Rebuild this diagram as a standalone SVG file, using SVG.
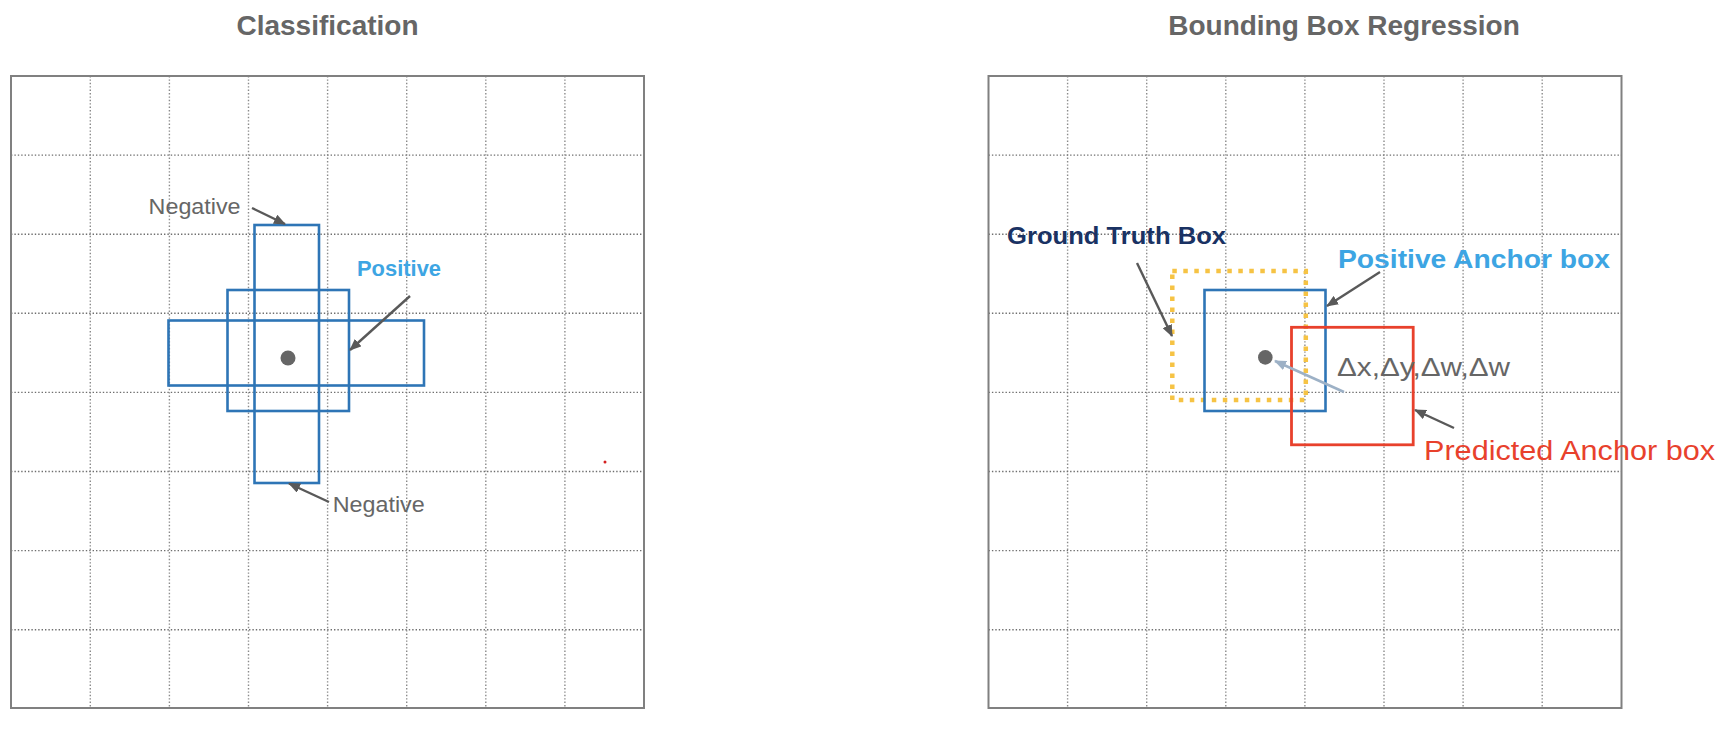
<svg xmlns="http://www.w3.org/2000/svg" width="1730" height="730" viewBox="0 0 1730 730">
<style>
.bg{fill:#ffffff}
.frame{fill:none;stroke:#808080;stroke-width:2}
.gh{stroke:#6f6f6f;stroke-width:1.4;stroke-dasharray:1.4 2}
.gv{stroke:#8a8a8a;stroke-width:1.4;stroke-dasharray:1.4 2}
.blue{fill:none;stroke:#2E75B6;stroke-width:2.6}
.red{fill:none;stroke:#E8412C;stroke-width:2.8}
.yellow{fill:none;stroke:#F6C344;stroke-width:4.5;stroke-dasharray:4.5 6.5}
.dot{fill:#666666}
.arr{stroke:#595959;stroke-width:2.4;fill:none;marker-end:url(#ah)}
.arrl{stroke:#9DB1C6;stroke-width:2.6;fill:none;marker-end:url(#ahl)}
.title{font-family:"Liberation Sans",Arial,sans-serif;font-weight:bold;font-size:28px;fill:#666666;text-anchor:middle}
.lbl{font-family:"Liberation Sans",Arial,sans-serif;fill:#666666}
.b{font-weight:bold}
</style>
<defs>
<marker id="ah" viewBox="0 0 12 10" refX="11" refY="5" markerWidth="12" markerHeight="10" markerUnits="userSpaceOnUse" orient="auto">
<path d="M0,0 L12,5 L0,10 z" fill="#595959"/>
</marker>
<marker id="ahl" viewBox="0 0 12 10" refX="11" refY="5" markerWidth="12" markerHeight="10" markerUnits="userSpaceOnUse" orient="auto">
<path d="M0,0 L12,5 L0,10 z" fill="#9DB1C6"/>
</marker>
</defs>
<rect class="bg" x="0" y="0" width="1730" height="730"/>

<g id="titles">
<text class="title" x="327.5" y="35">Classification</text>
<text class="title" x="1344" y="35">Bounding Box Regression</text>
</g>

<g id="grid-left">
<g class="gv">
<line x1="90.3" y1="76" x2="90.3" y2="708"/>
<line x1="169.4" y1="76" x2="169.4" y2="708"/>
<line x1="248.5" y1="76" x2="248.5" y2="708"/>
<line x1="327.6" y1="76" x2="327.6" y2="708"/>
<line x1="406.7" y1="76" x2="406.7" y2="708"/>
<line x1="485.8" y1="76" x2="485.8" y2="708"/>
<line x1="564.9" y1="76" x2="564.9" y2="708"/>
</g>
<g class="gh">
<line x1="11" y1="155.1" x2="644" y2="155.1"/>
<line x1="11" y1="234.2" x2="644" y2="234.2"/>
<line x1="11" y1="313.3" x2="644" y2="313.3"/>
<line x1="11" y1="392.4" x2="644" y2="392.4"/>
<line x1="11" y1="471.5" x2="644" y2="471.5"/>
<line x1="11" y1="550.6" x2="644" y2="550.6"/>
<line x1="11" y1="629.7" x2="644" y2="629.7"/>
</g>
<rect class="frame" x="11" y="76" width="633" height="632"/>
</g>

<g id="grid-right">
<g class="gv">
<line x1="1067.6" y1="76" x2="1067.6" y2="708"/>
<line x1="1146.7" y1="76" x2="1146.7" y2="708"/>
<line x1="1225.8" y1="76" x2="1225.8" y2="708"/>
<line x1="1304.9" y1="76" x2="1304.9" y2="708"/>
<line x1="1384" y1="76" x2="1384" y2="708"/>
<line x1="1463.1" y1="76" x2="1463.1" y2="708"/>
<line x1="1542.2" y1="76" x2="1542.2" y2="708"/>
</g>
<g class="gh">
<line x1="988.5" y1="155.1" x2="1621.5" y2="155.1"/>
<line x1="988.5" y1="234.2" x2="1621.5" y2="234.2"/>
<line x1="988.5" y1="313.3" x2="1621.5" y2="313.3"/>
<line x1="988.5" y1="392.4" x2="1621.5" y2="392.4"/>
<line x1="988.5" y1="471.5" x2="1621.5" y2="471.5"/>
<line x1="988.5" y1="550.6" x2="1621.5" y2="550.6"/>
<line x1="988.5" y1="629.7" x2="1621.5" y2="629.7"/>
</g>
<rect class="frame" x="988.5" y="76" width="633" height="632"/>
</g>

<g id="anchor-tall"><rect class="blue" x="254.5" y="225" width="64.5" height="258"/></g>
<g id="anchor-square"><rect class="blue" x="227.5" y="290" width="121.5" height="121"/></g>
<g id="anchor-wide"><rect class="blue" x="168.5" y="320.5" width="255.5" height="65"/></g>
<g id="center-left"><circle class="dot" cx="288" cy="358" r="7.5"/></g>
<g id="speck"><circle cx="605" cy="462" r="1.5" fill="#d42020"/></g>

<g id="label-negative-top"><text class="lbl" x="148.6" y="214" font-size="22" textLength="92" lengthAdjust="spacingAndGlyphs">Negative</text></g>
<g id="label-positive"><text class="lbl b" x="357" y="276" font-size="22" fill="#3DA5E3" style="fill:#3DA5E3" textLength="84" lengthAdjust="spacingAndGlyphs">Positive</text></g>
<g id="label-negative-bottom"><text class="lbl" x="332.7" y="512" font-size="22" textLength="92" lengthAdjust="spacingAndGlyphs">Negative</text></g>

<g id="gt-box"><rect class="yellow" x="1172.3" y="271" width="133.5" height="129"/></g>
<g id="positive-anchor-box"><rect class="blue" x="1204.5" y="290" width="121" height="121"/></g>
<g id="predicted-anchor-box"><rect class="red" x="1291.5" y="327.3" width="121.7" height="117.5"/></g>
<g id="center-right"><circle class="dot" cx="1265.3" cy="357.4" r="7.3"/></g>

<g id="label-gt"><text class="lbl b" x="1007" y="244" font-size="24" style="fill:#1A3263" textLength="219" lengthAdjust="spacingAndGlyphs">Ground Truth Box</text></g>
<g id="label-positive-anchor"><text class="lbl b" x="1338" y="268" font-size="26" style="fill:#3DA5E3" textLength="272" lengthAdjust="spacingAndGlyphs">Positive Anchor box</text></g>
<g id="label-delta"><text class="lbl" x="1337" y="376" font-size="26" textLength="173" lengthAdjust="spacingAndGlyphs">Δx,Δy,Δw,Δw</text></g>
<g id="label-predicted"><text class="lbl" x="1424" y="460" font-size="27" style="fill:#E8412C" textLength="291" lengthAdjust="spacingAndGlyphs">Predicted Anchor box</text></g>

<g id="connectors">
<line class="arr" x1="252" y1="208" x2="285" y2="224"/>
<line class="arr" x1="410" y1="296" x2="350" y2="350"/>
<line class="arr" x1="329" y1="502" x2="289" y2="483.5"/>
<line class="arr" x1="1137" y1="263" x2="1172" y2="336"/>
<line class="arr" x1="1380" y1="272" x2="1327" y2="306"/>
<line class="arr" x1="1454" y1="428" x2="1415" y2="410"/>
<line class="arrl" x1="1344" y1="392" x2="1275" y2="361"/>
</g>
</svg>
